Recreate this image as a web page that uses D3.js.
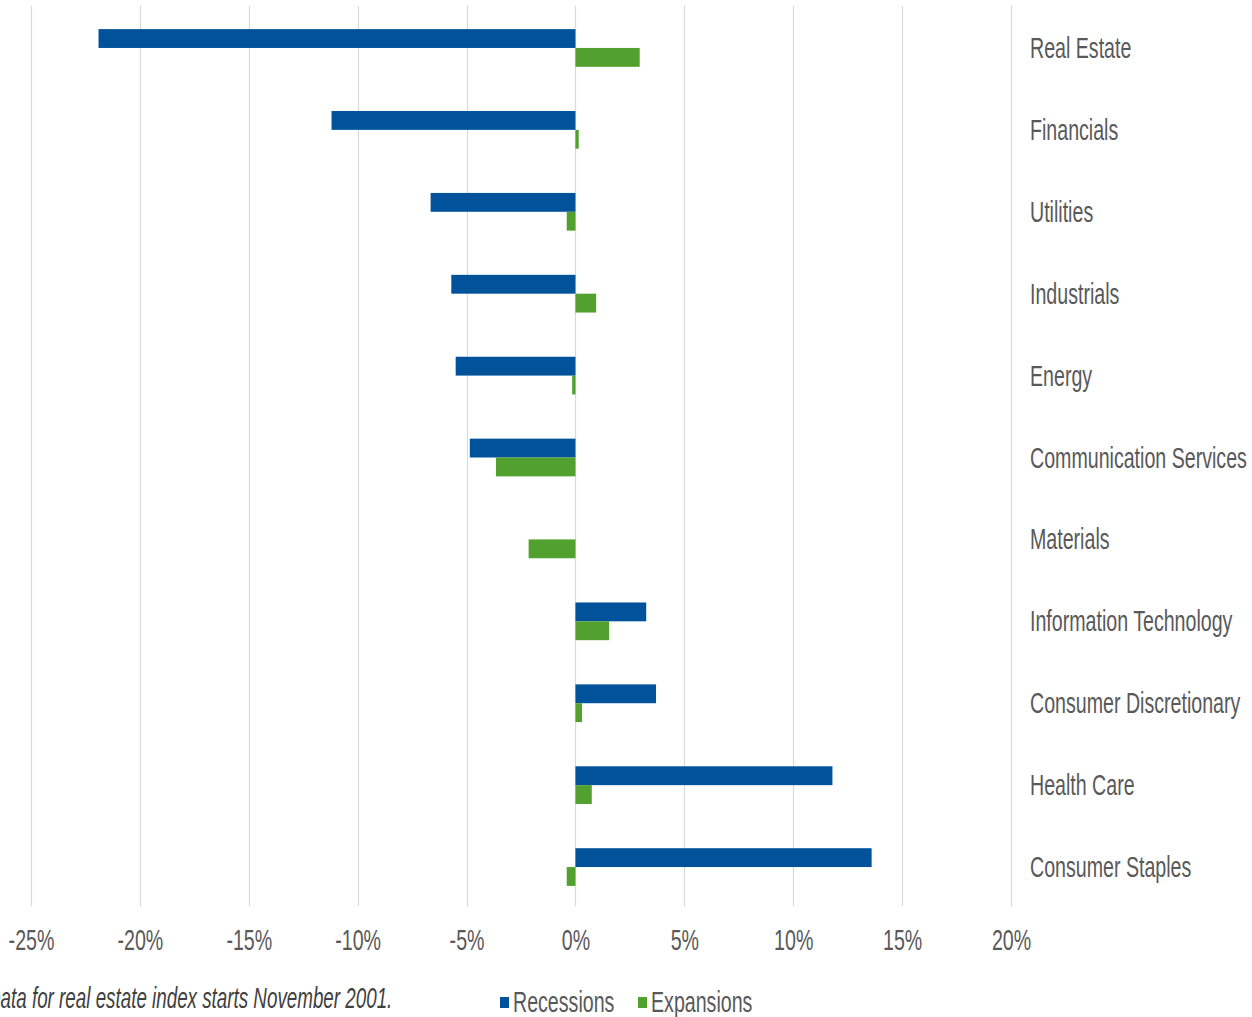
<!DOCTYPE html>
<html><head><meta charset="utf-8">
<script src="https://cdn.jsdelivr.net/npm/d3@7"></script>
<style>body{margin:0;background:#fff;overflow:hidden}</style>
</head><body>
<svg id="chart" width="1252" height="1017"></svg>
<script>
const categories = ["Real Estate","Financials","Utilities","Industrials","Energy","Communication Services","Materials","Information Technology","Consumer Discretionary","Health Care","Consumer Staples"];
const recessions = [-21.9,-11.2,-6.65,-5.7,-5.5,-4.85,0,3.25,3.7,11.8,13.6];
const expansions = [2.95,0.15,-0.4,0.95,-0.15,-3.65,-2.15,1.55,0.3,0.75,-0.4];
const seriesNames = ["Recessions","Expansions"];
const seriesColors = ["#00529b","#52a02e"];
const tickValues = [-25,-20,-15,-10,-5,0,5,10,15,20];
const footnote = "Data for real estate index starts November 2001.";

const FONT = "'Liberation Sans Narrow','Arial Narrow',sans-serif";
const FS = 23.5, SX = 0.835, SY = 1.22, TXT = "#595959";

const svg = d3.select("#chart");
const x = d3.scaleLinear().domain([-25,20]).range([31,1011]);
const y = d3.scaleBand().domain(categories).range([7,908]).paddingInner(0.54).paddingOuter(0.27);
const ySub = d3.scaleBand().domain(seriesNames).range([0,y.bandwidth()]);
const color = d3.scaleOrdinal().domain(seriesNames).range(seriesColors);

// gridlines
svg.append("g").selectAll("line").data(tickValues).join("line")
  .attr("x1",d=>Math.round(x(d))+0.5).attr("x2",d=>Math.round(x(d))+0.5)
  .attr("y1",6).attr("y2",906)
  .attr("stroke","#d9d9d9").attr("stroke-width",1.2);

// bars
const rows = categories.map((c,i)=>({cat:c, vals:[{s:"Recessions",v:recessions[i]},{s:"Expansions",v:expansions[i]}]}));
const grp = svg.append("g").selectAll("g").data(rows).join("g")
  .attr("transform",d=>`translate(0,${y(d.cat)})`);
grp.selectAll("rect").data(d=>d.vals).join("rect")
  .attr("x",d=>x(Math.min(0,d.v)))
  .attr("width",d=>Math.abs(x(d.v)-x(0)))
  .attr("y",d=>ySub(d.s))
  .attr("height",ySub.bandwidth())
  .attr("fill",d=>color(d.s));

// category labels
svg.append("g").selectAll("g").data(categories).join("g")
  .attr("transform",d=>`translate(1030,${y(d)+y.bandwidth()/2}) scale(${SX},${SY})`)
  .append("text")
  .attr("dy","0.35em")
  .style("font-family",FONT).style("font-size",FS+"px").attr("fill",TXT)
  .text(d=>d);

// x axis
const ax = svg.append("g").attr("transform","translate(0,940)")
  .call(d3.axisBottom(x).tickValues(tickValues).tickFormat(d=>d+"%").tickSize(0));
ax.select(".domain").remove();
ax.selectAll("text")
  .attr("y",0).attr("dy","0.35em")
  .attr("transform",`scale(${SX},${SY})`)
  .style("font-family",FONT).style("font-size",FS+"px").attr("fill",TXT);
ax.selectAll(".tick").each(function(){
  // keep label centred on tick after horizontal scaling
  d3.select(this).select("text").attr("text-anchor","middle");
});

// footnote
svg.append("g").attr("transform",`translate(-13,998) scale(0.8,${SY})`)
  .append("text").attr("dy","0.35em")
  .style("font-family",FONT).style("font-size",FS+"px").style("font-style","italic").attr("fill","#404040")
  .text(footnote);

// legend
const legendX = [500,638];
const lg = svg.append("g").selectAll("g").data(seriesNames).join("g")
  .attr("transform",(d,i)=>`translate(${legendX[i]},1002)`);
lg.append("rect").attr("x",0).attr("y",-5).attr("width",9).attr("height",11).attr("fill",d=>color(d));
lg.append("g").attr("transform",`translate(13,0) scale(${SX},${SY})`)
  .append("text").attr("dy","0.35em")
  .style("font-family",FONT).style("font-size",FS+"px").attr("fill",TXT)
  .text(d=>d);
</script>
</body></html>
